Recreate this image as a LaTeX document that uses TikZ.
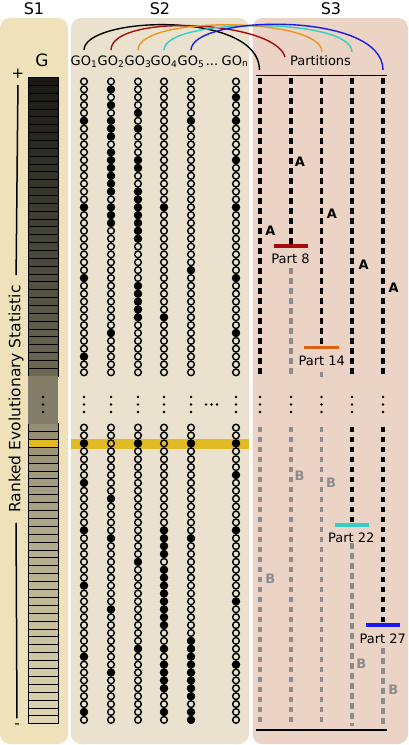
\documentclass[tikz,border=0pt]{standalone}
\usepackage{fontspec}
\setmainfont{DejaVu Sans}
\usetikzlibrary{arrows}
\usetikzlibrary{shapes}

\definecolor{panelone}{RGB}{239,226,186}
\definecolor{paneltwo}{RGB}{234,226,206}
\definecolor{panelthree}{RGB}{235,211,197}
\definecolor{hiyellow}{RGB}{226,186,36}
\definecolor{bartop}{RGB}{26,26,20}
\definecolor{barmid}{RGB}{108,104,84}
\definecolor{bargap}{RGB}{130,124,104}
\definecolor{barlow}{RGB}{148,142,116}
\definecolor{barend}{RGB}{224,214,176}
\definecolor{partgrey}{RGB}{140,140,140}
\definecolor{partred}{RGB}{165,12,12}
\definecolor{partorange}{RGB}{222,98,18}
\definecolor{arcorange}{RGB}{236,150,30}
\definecolor{partcyan}{RGB}{52,206,196}
\definecolor{partblue}{RGB}{26,26,232}

\begin{document}
\begin{tikzpicture}[x=1pt,y=1pt,yscale=-1,xscale=1,
  panel/.style={draw=none,rounded corners=10pt},
  paneltitle/.style={font=\fontsize{16}{19}\selectfont},
  golabel/.style={font=\fontsize{13}{15}\selectfont,anchor=base,inner sep=5pt},
  hole/.style={line width=1.4pt},
  hit/.style={line width=1.4pt,fill=black},
  rankseg/.style={draw=black,line width=1pt},
  partA/.style={line width=3.2pt,dash pattern=on 5.5pt off 4.5pt},
  partB/.style={partA,draw=partgrey},
  cutbar/.style={line width=3.3pt},
  partlabel/.style={font=\fontsize{13}{15}\selectfont,anchor=base,inner sep=1pt},
  lettA/.style={font=\fontsize{13}{15}\selectfont\bfseries},
  lettB/.style={lettA,text=partgrey},
  golink/.style={line width=1.4pt}
]
\fill[white] (0,0) rectangle (408,745);
\path[use as bounding box] (0,0) rectangle (408,745);
%Shape: Panels
\fill[panel,fill=panelone] (0,18) rectangle (68,744);
\fill[panel,fill=paneltwo] (71,18) rectangle (249,744);
\fill[panel,fill=panelthree] (252.5,18) rectangle (408,744);
% Text Node
\node[paneltitle] (s1) at (34,9) {S1};
\node[paneltitle] (s2) at (160,9) {S2};
\node[paneltitle] (s3) at (331,9) {S3};
\node[font=\fontsize{17}{20}\selectfont] (g) at (42,60.5) {G};

%Shape: Highlighted row
\fill[hiyellow] (71,439) rectangle (249,449);

%Shape: Ranked bar, upper part
\foreach \i in {0,...,37}{
  \pgfmathsetmacro\yy{81.5+7.86*\i}
  \pgfmathtruncatemacro\p{\i*100/37}
  \draw[rankseg,fill=barmid!\p!bartop] (28,\yy-3.93) rectangle (58,\yy+3.93);
}
%Shape: Ranked bar, lower part
\foreach \j in {0,...,37}{
  \pgfmathsetmacro\yy{427.6+7.9*\j}
  \pgfmathtruncatemacro\p{\j*100/37}
  \draw[rankseg,fill=barend!\p!barlow] (28,\yy-3.95) rectangle (58,\yy+3.95);
}
\draw[rankseg,fill=hiyellow] (28,439.45) rectangle (58,447.35);
\fill[bargap] (28,376.2) rectangle (58,423.6);
\foreach \yy in {397,404.5,412} \fill (43,\yy) circle (1.4);

% Text Node
\node[rotate=90,font=\fontsize{15.5}{18}\selectfont,inner sep=0pt] (stat) at (16,399) {Ranked Evolutionary Statistic};
\node[font=\fontsize{15}{18}\selectfont,inner sep=0pt] (plus) at (18,74) {+};
\node[font=\fontsize{15}{18}\selectfont,inner sep=0pt] (minus) at (17,726) {-};
\draw[line width=1.5pt,shorten <=6pt,shorten >=10pt] (plus.south) -- (stat.east);
\draw[line width=1.5pt,shorten <=10pt,shorten >=5pt] (stat.west) -- (minus.north);

%Shape: Gene set columns
\foreach \cx/\tophits/\bothits in {
  84/{5,16,25,35}/{2,7,13,20,29,36},
  111/{1,3,5,6,7,9,10,11,12,13,14,16,17,18,32}/{9,14,23,31},
  138/{4,6,10,11,14,15,16,17,18,19,20,26,27,28,29,30}/{2,17,28},
  164/{16,30}/{13,14,15,16,18,19,20,21,22,23,24,25,28,30,31,32,33,36},
  191/{5,24}/{2,14,27,28,29,30,31,32,33,34,36,37},
  236/{2,5,10,16,25,32}/{2,6,13,22,30}}{
  \foreach \i in {0,...,37} \draw[hole] (\cx,81.5+7.86*\i) circle (3.35);
  \foreach \i in \tophits \draw[hit] (\cx,81.5+7.86*\i) circle (3.35);
  \foreach \j in {0,...,37} \draw[hole] (\cx,427.6+7.9*\j) circle (3.35);
  \foreach \j in \bothits \draw[hit] (\cx,427.6+7.9*\j) circle (3.35);
  \foreach \yy in {397,404.5,412} \fill (\cx,\yy) circle (1.4);
}
\foreach \xx in {206,211.5,217} \fill (\xx,404.5) circle (1.4);

% Text Node
\node[golabel] (go1) at (84,65) {GO\textsubscript{1}};
\node[golabel] (go2) at (111,65) {GO\textsubscript{2}};
\node[golabel] (go3) at (138,65) {GO\textsubscript{3}};
\node[golabel] (go4) at (164,65) {GO\textsubscript{4}};
\node[golabel] (go5) at (191,65) {GO\textsubscript{5}};
\node[golabel] (godots) at (212,65) {...};
\node[golabel] (gon) at (235,65) {GO\textsubscript{n}};
\node[golabel,inner sep=1pt] (parts) at (320.5,65.5) {Partitions};

%Straight Lines: partition frame
\coordinate (topL) at (256,75.5);
\coordinate (topR) at (387,75.5);
\coordinate (botL) at (256,730);
\coordinate (botR) at (387,730);
\draw[line width=1.5pt] (topL) -- (topR);
\draw[line width=1.5pt] (botL) -- (botR);

%Curve Lines: gene sets to partitions
\coordinate (end1) at (259.5,70);
\coordinate (end2) at (285,57);
\coordinate (end3) at (322,52);
\coordinate (end4) at (352,52);
\coordinate (end5) at (383,70);
\draw[golink,black] (go1.north) .. controls +(0,-34) and +(0,-60) .. (end1);
\draw[golink,partred] (go2.north) .. controls +(0,-37) and +(-10,-37) .. (end2);
\draw[golink,arcorange] (go3.north) .. controls +(0,-35) and +(0,-35) .. (end3);
\draw[golink,partcyan] (go4.north) .. controls +(0,-33) and +(0,-35) .. (end4);
\draw[golink,partblue] (go5.north) .. controls +(0,-35) and +(0,-60) .. (end5);

%Straight Lines: partitions
\draw[partA] (260,78) -- (260,378);
\draw[partB] (260,426.7) -- (260,726);
\draw[partA] (291,78) -- (291,246);
\draw[partB] (291,268.3) -- (291,378);
\draw[partB] (291,426.7) -- (291,726);
\draw[partA] (321.5,78) -- (321.5,347);
\draw[partB] (321.5,371.7) -- (321.5,377);
\draw[partB] (321.5,426.7) -- (321.5,726);
\draw[partA] (352,78) -- (352,378);
\draw[partA] (352,426.7) -- (352,525);
\draw[partB] (352,543.3) -- (352,726);
\draw[partA] (383,78) -- (383,378);
\draw[partA] (383,426.7) -- (383,625);
\draw[partB] (383,648.3) -- (383,726);
\foreach \lx in {260,291,321.5,352,383}
  \foreach \yy in {397,404.5,412} \fill (\lx,\yy) circle (1.4);

%Straight Lines: cut points
\draw[cutbar,partred] (273.7,246) -- (307.7,246);
\draw[cutbar,partorange] (304.3,347.3) -- (338.7,347.3);
\draw[cutbar,partcyan] (335.3,525) -- (368.7,525);
\draw[cutbar,partblue] (366.3,625) -- (399.7,625);
% Text Node
\node[partlabel] (part8) at (290.5,263.3) {Part 8};
\node[partlabel] (part14) at (321.7,365.7) {Part 14};
\node[partlabel] (part22) at (351.3,542.3) {Part 22};
\node[partlabel] (part27) at (382.7,643.3) {Part 27};

% Text Node
\node[lettA] (a1) at (270.3,230.7) {A};
\node[lettA] (a2) at (300,162) {A};
\node[lettA] (a3) at (332,213.3) {A};
\node[lettA] (a4) at (363.7,265) {A};
\node[lettA] (a5) at (393.7,287.3) {A};
\node[lettB] (b1) at (270.3,578.3) {B};
\node[lettB] (b2) at (299.7,475.7) {B};
\node[lettB] (b3) at (331,482.3) {B};
\node[lettB] (b4) at (361.3,664) {B};
\node[lettB] (b5) at (393.3,689.3) {B};
\end{tikzpicture}
\end{document}
